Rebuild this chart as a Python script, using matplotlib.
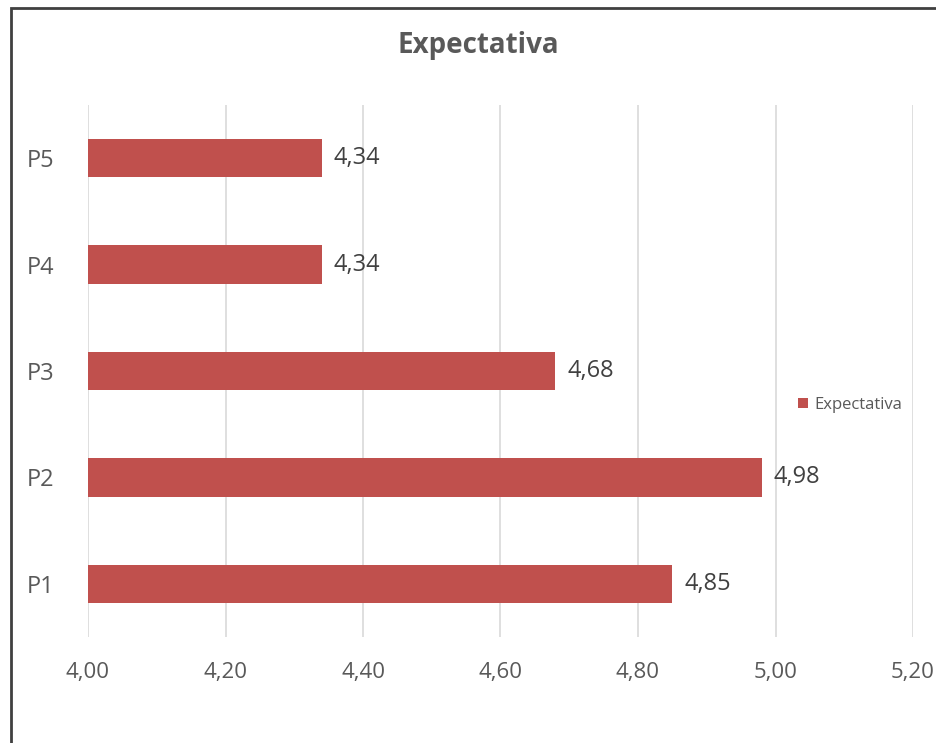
import matplotlib.pyplot as plt
from matplotlib.patches import Rectangle

# data
categories = ['P1', 'P2', 'P3', 'P4', 'P5']
values = [4.85, 4.98, 4.68, 4.34, 4.34]
xticks = [4.00, 4.20, 4.40, 4.60, 4.80, 5.00, 5.20]
series_name = 'Expectativa'

bar_color = '#C0504D'
text_color = '#595959'

plt.rcParams['font.family'] = ['Open Sans', 'DejaVu Sans']

fig = plt.figure(figsize=(9.36, 7.43), dpi=100)

# frame around the chart (right and bottom edges are cut off in the original)
fig.patches.append(Rectangle((11/936, -0.05), 1.1, 1 - 8/743 + 0.05,
                             transform=fig.transFigure, fill=False,
                             edgecolor='#404040', linewidth=2))

ax = fig.add_axes([88/936, 1 - 637/743, 825/936, 532/743])
ypos = list(range(len(categories)))
ax.barh(ypos, values, height=0.36, color=bar_color, label=series_name, zorder=2)

for y, v in zip(ypos, values):
    ax.text(v + 0.017, y, ('%.2f' % v).replace('.', ','), va='center', ha='left',
            fontsize=17, color='#404040')

ax.set_xlim(4.0, 5.2)
ax.set_ylim(-0.5, 4.5)
ax.set_xticks(xticks)
ax.set_xticklabels([('%.2f' % t).replace('.', ',') for t in xticks])
ax.set_yticks(ypos)
ax.set_yticklabels(categories)
ax.tick_params(axis='both', length=0, colors=text_color)
ax.tick_params(axis='x', pad=18, labelsize=16)
ax.tick_params(axis='y', pad=44, labelsize=17)
for lbl in ax.get_yticklabels():
    lbl.set_horizontalalignment('left')
ax.grid(axis='x', color='#D9D9D9', linewidth=1.2, zorder=0)
for s in ax.spines.values():
    s.set_visible(False)

fig.text(478/936, 1 - 45/743, 'Expectativa', ha='center', va='center',
         fontsize=20, fontweight='bold', color=text_color)

fig.legend(loc='center left', bbox_to_anchor=(783/936, 1 - 405/743), frameon=False,
           fontsize=12, handlelength=0.6, handleheight=0.6, handletextpad=0.4,
           labelcolor=text_color)

fig.savefig('out.png', dpi=100)
